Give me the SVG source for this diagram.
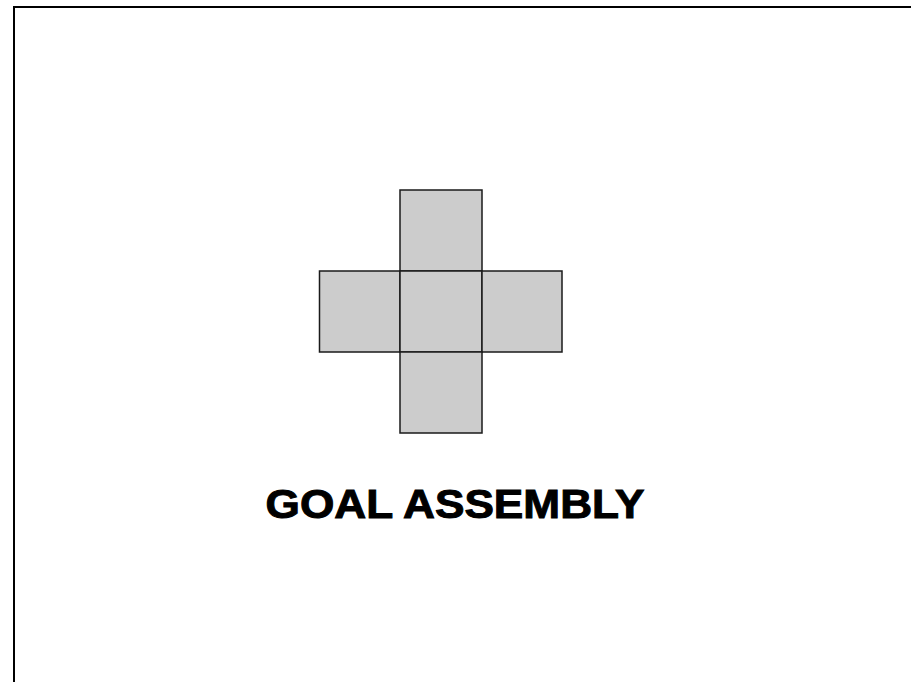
<svg xmlns="http://www.w3.org/2000/svg" width="911" height="682" viewBox="0 0 911 682">
<style>
.sq{fill:#cccccc;stroke:#1a1a1a;stroke-width:1.5}
.frame{fill:none;stroke:#000;stroke-width:2}
.title{font-family:"Liberation Sans",Arial,sans-serif;font-weight:bold;font-size:41px;fill:#000;stroke:#000;stroke-width:1}
</style>
<rect width="911" height="682" fill="#fff"/>
<path class="frame" d="M14 682 V7 H911"/>
<g id="top"><rect class="sq" x="400" y="190" width="82" height="81"/></g>
<g id="left"><rect class="sq" x="319.5" y="271" width="80.5" height="81"/></g>
<g id="center"><rect class="sq" x="400" y="271" width="82" height="81"/></g>
<g id="right"><rect class="sq" x="482" y="271" width="80" height="81"/></g>
<g id="bottom"><rect class="sq" x="400" y="352" width="82" height="81"/></g>
<g id="connectors"></g>
<text class="title" x="265.5" y="517.5" textLength="379" lengthAdjust="spacingAndGlyphs">GOAL ASSEMBLY</text>
</svg>
